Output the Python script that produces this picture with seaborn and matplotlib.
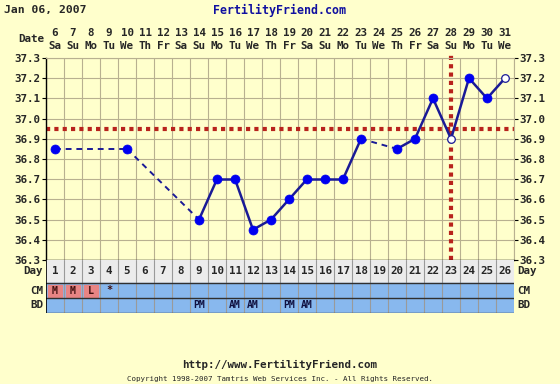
import numpy as np
import pandas as pd
import matplotlib
matplotlib.use("Agg")
import matplotlib.pyplot as plt
import seaborn as sns

# chart data
days = list(range(1, 27))
dates = list(range(6, 32))
weekdays = ["Sa", "Su", "Mo", "Tu", "We", "Th", "Fr"] * 3 + ["Sa", "Su", "Mo", "Tu", "We"]
temps = [36.85, None, None, None, 36.85, None, None, None, 36.5, 36.7, 36.7, 36.45, 36.5,
         36.6, 36.7, 36.7, 36.7, 36.9, None, 36.85, 36.9, 37.1, 36.9, 37.2, 37.1, 37.2]
open_days = [23, 26]
cm_marks = ["M", "M", "L", "*"] + [""] * 22
bd_marks = [""] * 8 + ["PM", "", "AM", "AM", "", "PM", "AM"] + [""] * 11
y_ticks = [36.3, 36.4, 36.5, 36.6, 36.7, 36.8, 36.9, 37.0, 37.1, 37.2, 37.3]
coverline = 36.95
ovulation_day = 23

BG = "#ffffcc"
GRID = "#b8b090"
LINE = "#1a1a96"
DOT = "#0000f0"
RED = "#b8231c"
BLUE_ROW = "#88b8ee"
RED_CELL = "#e88484"
FONT = "DejaVu Sans Mono"

sns.set_style("white")
plt.rcParams["font.family"] = [FONT]
plt.rcParams["font.weight"] = "bold"

W, H = 560, 384
fig = plt.figure(figsize=(W / 100, H / 100), dpi=100, facecolor=BG)

def fx(px):
    return px / W

def fy(py):
    return 1 - py / H

left, right, top, bottom = 46, 514, 58, 260
ax = fig.add_axes([fx(left), fy(bottom), fx(right - left), (bottom - top) / H])
ax.set_facecolor(BG)

df = pd.DataFrame({"day": days, "temp": temps})
obs = df.dropna().reset_index(drop=True)

# connecting lines: solid for consecutive days, dashed across gaps
for i in range(len(obs) - 1):
    seg = obs.iloc[i:i + 2]
    gap = seg["day"].iloc[1] - seg["day"].iloc[0] > 1
    sns.lineplot(data=seg, x="day", y="temp", ax=ax, color=LINE, sort=False, estimator=None,
                 linewidth=1.4 if gap else 1.8,
                 linestyle=(0, (3, 2.5)) if gap else "-", zorder=3)

filled = obs[~obs["day"].isin(open_days)]
hollow = obs[obs["day"].isin(open_days)]
sns.scatterplot(data=filled, x="day", y="temp", ax=ax, color=DOT, s=42, edgecolor=DOT,
                linewidth=0.5, zorder=4)
sns.scatterplot(data=hollow, x="day", y="temp", ax=ax, color="white", s=30, edgecolor=LINE,
                linewidth=0.9, zorder=4)

ax.axhline(coverline, color=RED, lw=3, linestyle=(0, (1, 1)), zorder=2)
ax.plot([ovulation_day, ovulation_day], [36.3, 37.33], color=RED, lw=3,
        linestyle=(0, (1, 1)), zorder=2, clip_on=False)

ax.set_xlim(0.5, 26.5)
ax.set_ylim(36.3, 37.3)
ax.set_xticks(np.arange(0.5, 27, 1))
ax.set_xticklabels([])
ax.set_yticks(y_ticks)
ax.set_yticklabels([f"{v:.1f}" for v in y_ticks])
ax.tick_params(axis="x", length=0)
ax.tick_params(axis="y", left=True, right=True, labelright=True, length=3, width=0.8,
               color="black", labelsize=7.8, pad=1)
ax.grid(True, color=GRID, lw=0.8, zorder=0)
ax.set_xlabel("")
ax.set_ylabel("")
for side in ["top", "right"]:
    ax.spines[side].set_color(GRID)
    ax.spines[side].set_linewidth(0.8)
for side in ["left", "bottom"]:
    ax.spines[side].set_color("black")
    ax.spines[side].set_linewidth(1.0)

# table below the chart: Day / CM / BD rows
tb_top, tb_bot = 260, 313
tax = fig.add_axes([fx(left), fy(tb_bot), fx(right - left), (tb_bot - tb_top) / H])
tax.set_xlim(0.5, 26.5)
tax.set_ylim(tb_bot, tb_top)
tax.axis("off")
tax.axhspan(260, 283, color="#ececec", zorder=0)
tax.axhspan(283, 313, color=BLUE_ROW, zorder=0)
for i, d in enumerate(days):
    if cm_marks[i] in ("M", "L"):
        tax.add_patch(plt.Rectangle((d - 0.4, 284.5), 0.8, 12.5, color=RED_CELL, zorder=1))
    tax.text(d, 271.5, str(d), ha="center", va="center", fontsize=7.8, fontweight="bold")
    if cm_marks[i]:
        tax.text(d, 290.5, cm_marks[i], ha="center", va="center", fontsize=7.2,
                 fontweight="bold", color="#401010")
    if bd_marks[i]:
        tax.text(d, 305.5, bd_marks[i], ha="center", va="center", fontsize=7,
                 fontweight="bold", color="#101040")
for xv in np.arange(1.5, 26.5, 1):
    tax.plot([xv, xv], [260, 313], color="#9a9a9a", lw=0.8, zorder=2)
for yv in [283, 298, 313]:
    tax.plot([0.5, 26.5], [yv, yv], color="#303030", lw=1.0, zorder=3)
tax.plot([0.5, 0.5], [260, 313], color="black", lw=1.2, zorder=3)

# row labels on both sides
for label, py in [("Day", 271.5), ("CM", 290.5), ("BD", 305.5)]:
    fig.text(fx(43), fy(py), label, ha="right", va="center", fontsize=7.8, fontweight="bold")
    fig.text(fx(517), fy(py), label, ha="left", va="center", fontsize=7.8, fontweight="bold")

# date header
fig.text(fx(44), fy(39), "Date", ha="right", va="center", fontsize=7.8, fontweight="bold")
for d, dt, wd in zip(days, dates, weekdays):
    xc = fx(left + (d - 0.5) * (right - left) / 26)
    fig.text(xc, fy(33), str(dt), ha="center", va="center", fontsize=7.8, fontweight="bold")
    fig.text(xc, fy(46), wd, ha="center", va="center", fontsize=7.8, fontweight="bold")

fig.text(fx(4), fy(10), "Jan 06, 2007", ha="left", va="center", fontsize=8.2, fontweight="bold")
fig.text(fx(279), fy(10), "FertilityFriend.com", ha="center", va="center", fontsize=8.4,
         fontweight="bold", color="#1010a0")
fig.text(fx(280), fy(365), "http://www.FertilityFriend.com", ha="center", va="center",
         fontsize=7.8, fontweight="bold")
fig.text(fx(280), fy(379), "Copyright 1998-2007 Tamtris Web Services Inc. - All Rights Reserved.",
         ha="center", va="center", fontsize=5.4, fontweight="normal")

fig.savefig("out.png", dpi=100, facecolor=BG)
